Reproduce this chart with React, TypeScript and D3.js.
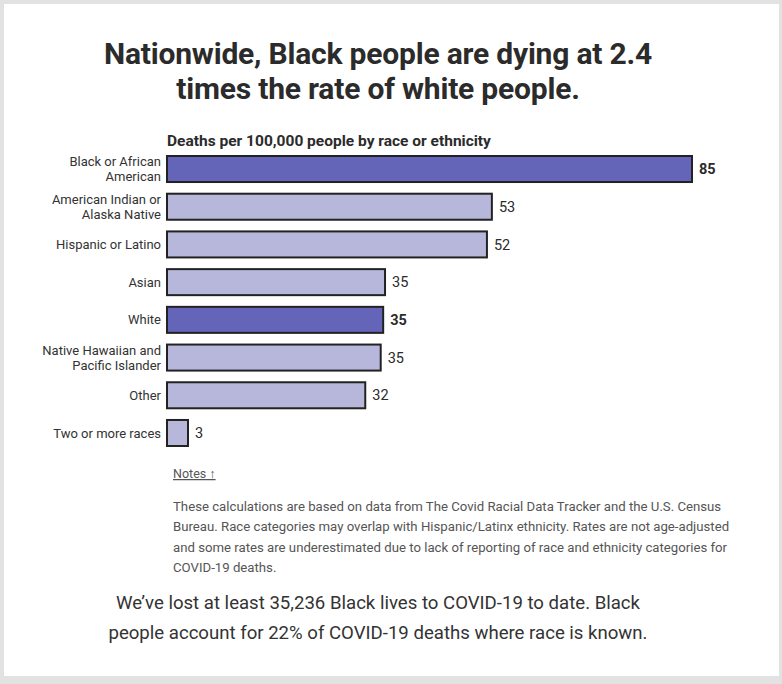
import React from "react";
import * as d3 from "d3";

const categories = [
  "Black or African\nAmerican",
  "American Indian or\nAlaska Native",
  "Hispanic or Latino",
  "Asian",
  "White",
  "Native Hawaiian and\nPacific Islander",
  "Other",
  "Two or more races",
];
const values = [85, 52.6, 51.8, 35.3, 35.0, 34.6, 32.1, 3.4];
const valueLabels = ["85", "53", "52", "35", "35", "35", "32", "3"];
const highlighted = [true, false, false, false, true, false, false, false];

const titleLines = ["Nationwide, Black people are dying at 2.4", "times the rate of white people."];
const subtitle = "Deaths per 100,000 people by race or ethnicity";
const notesLines = [
  "These calculations are based on data from The Covid Racial Data Tracker and the U.S. Census",
  "Bureau. Race categories may overlap with Hispanic/Latinx ethnicity. Rates are not age-adjusted",
  "and some rates are underestimated due to lack of reporting of race and ethnicity categories for",
  "COVID-19 deaths.",
];
const footerLines = [
  "We\u2019ve lost at least 35,236 Black lives to COVID-19 to date. Black",
  "people account for 22% of COVID-19 deaths where race is known.",
];

const W = 782;
const H = 684;
const FONT = "Roboto, 'Liberation Sans', Arial, sans-serif";

export default function App() {
  const x = d3.scaleLinear().domain([0, 85]).range([167, 692]);
  const y = d3
    .scaleBand<number>()
    .domain(d3.range(categories.length))
    .range([156, 446])
    .paddingInner(0.31)
    .paddingOuter(0);

  return (
    <div style={{ position: "absolute", left: 0, top: 0 }}>
      <svg width={W} height={H} style={{ display: "block" }} fontFamily={FONT}>
        <rect x={0} y={0} width={W} height={H} fill="#e2e2e2" />
        <rect x={4} y={4} width={775} height={672} fill="#ffffff" />

        {titleLines.map((t, i) => (
          <text
            key={i}
            x={378}
            y={64 + i * 35}
            textAnchor="middle"
            fontSize={30}
            fontWeight={700}
            fill="#2b2b2b"
            letterSpacing={-0.2}
          >
            {t}
          </text>
        ))}

        <text x={167} y={146} fontSize={15.5} fontWeight={700} fill="#2b2b2b">
          {subtitle}
        </text>

        {categories.map((c, i) => {
          const cy = (y(i) ?? 0) + y.bandwidth() / 2;
          const lines = c.split("\n");
          const lh = 15;
          const top = cy - ((lines.length - 1) * lh) / 2;
          return (
            <g key={c}>
              {lines.map((l, j) => (
                <text
                  key={j}
                  x={161}
                  y={top + j * lh}
                  dy="0.35em"
                  textAnchor="end"
                  fontSize={13}
                  fill="#333"
                >
                  {l}
                </text>
              ))}
              <rect
                x={x(0)}
                y={y(i)}
                width={x(values[i]) - x(0)}
                height={y.bandwidth()}
                fill={highlighted[i] ? "#6464b9" : "#b7b7dc"}
                stroke="#222"
                strokeWidth={2}
              />
              <text
                x={x(values[i]) + 7}
                y={cy}
                dy="0.35em"
                fontSize={14.5}
                fontWeight={highlighted[i] ? 700 : 400}
                fill="#2b2b2b"
              >
                {valueLabels[i]}
              </text>
            </g>
          );
        })}

        <text x={173} y={478} fontSize={12.5} fill="#555" textDecoration="underline">
          Notes ↑
        </text>

        {notesLines.map((l, i) => (
          <text key={i} x={173} y={511 + i * 20.3} fontSize={13.2} fill="#555">
            {l}
          </text>
        ))}

        {footerLines.map((l, i) => (
          <text key={i} x={378} y={609 + i * 30} textAnchor="middle" fontSize={18.6} fill="#333">
            {l}
          </text>
        ))}
      </svg>
    </div>
  );
}
